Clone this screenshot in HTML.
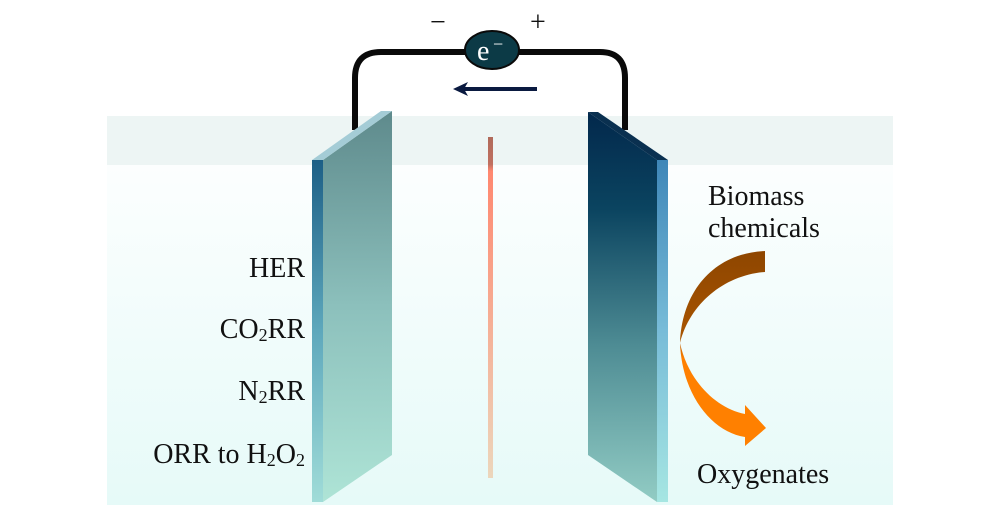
<!DOCTYPE html>
<html><head><meta charset="utf-8"><style>
html,body{margin:0;padding:0;background:#fff;}
svg{display:block}
text{font-family:"Liberation Serif",serif;fill:#111;}
</style></head><body>
<svg width="1000" height="516" viewBox="0 0 1000 516" xmlns="http://www.w3.org/2000/svg">
<defs>
<linearGradient id="bg" x1="0" y1="0" x2="0" y2="1">
<stop offset="0" stop-color="#ffffff"/><stop offset="1" stop-color="#e6faf8"/></linearGradient>
<linearGradient id="lface" x1="0" y1="0" x2="0" y2="1">
<stop offset="0" stop-color="#5e8a8c"/><stop offset="0.5" stop-color="#8cc0bc"/><stop offset="1" stop-color="#aee4d6"/></linearGradient>
<linearGradient id="lstrip" x1="0" y1="0" x2="0" y2="1">
<stop offset="0" stop-color="#1d5f86"/><stop offset="0.5" stop-color="#5ea8bc"/><stop offset="1" stop-color="#a0dcd8"/></linearGradient>
<linearGradient id="rface" x1="0" y1="0" x2="0" y2="1">
<stop offset="0" stop-color="#02284c"/><stop offset="0.25" stop-color="#0b4460"/><stop offset="0.6" stop-color="#4e8c94"/><stop offset="1" stop-color="#92ccc4"/></linearGradient>
<linearGradient id="rstrip" x1="0" y1="0" x2="0" y2="1">
<stop offset="0" stop-color="#3e86b8"/><stop offset="0.5" stop-color="#78bcd8"/><stop offset="1" stop-color="#a6e6e2"/></linearGradient>
<linearGradient id="rod" x1="0" y1="0" x2="0" y2="1">
<stop offset="0" stop-color="#b06a5a"/><stop offset="0.08" stop-color="#c07060"/><stop offset="0.1" stop-color="#ff8870"/><stop offset="1" stop-color="#ecd6bc"/></linearGradient>
<linearGradient id="arr" x1="0" y1="0" x2="0" y2="1">
<stop offset="0" stop-color="#8e4600"/><stop offset="0.45" stop-color="#a85400"/><stop offset="0.55" stop-color="#ff8000"/><stop offset="1" stop-color="#ff8000"/></linearGradient>
</defs>
<rect x="107" y="116" width="786" height="389" fill="url(#bg)"/>
<rect x="107" y="116" width="786" height="49" fill="#edf5f4"/>
<!-- wire -->
<path d="M355,130 L355,78 Q355,52 381,52 L600,52 Q625,52 625,78 L625,130" fill="none" stroke="#0a0a0a" stroke-width="6"/>
<ellipse cx="492" cy="50" rx="27" ry="19" fill="#0c3a46" stroke="#0a0a0a" stroke-width="2"/>
<text x="477" y="60" font-size="28" style="fill:#fff">e</text>
<text x="493" y="50" font-size="18" style="fill:#fff">−</text>
<text x="430" y="31" font-size="28">−</text>
<text x="530" y="31" font-size="28">+</text>
<line x1="537" y1="89" x2="464" y2="89" stroke="#0a1a40" stroke-width="4"/>
<polygon points="453,89 468,82 464,89 468,96" fill="#0a1a40"/>
<!-- rod -->
<rect x="488" y="137" width="5" height="341" fill="url(#rod)"/>
<!-- left electrode -->
<polygon points="323,160 392,111 392,455 323,502" fill="url(#lface)"/>
<polygon points="312,160 381,111 392,111 323,160" fill="#a4ccd6"/>
<rect x="312" y="160" width="11" height="342" fill="url(#lstrip)"/>
<!-- right electrode -->
<polygon points="588,112 657,160 657,502 588,455" fill="url(#rface)"/>
<polygon points="588,112 598,112 668,160 657,160" fill="#0a3050"/>
<rect x="657" y="160" width="11" height="342" fill="url(#rstrip)"/>
<!-- labels -->
<text x="305" y="277" font-size="28" text-anchor="end">HER</text>
<text x="305" y="338" font-size="28" text-anchor="end">CO<tspan font-size="18" dy="3">2</tspan><tspan dy="-3">RR</tspan></text>
<text x="305" y="400" font-size="28" text-anchor="end">N<tspan font-size="18" dy="3">2</tspan><tspan dy="-3">RR</tspan></text>
<text x="305" y="463" font-size="28" text-anchor="end">ORR to H<tspan font-size="18" dy="3">2</tspan><tspan dy="-3">O</tspan><tspan font-size="18" dy="3">2</tspan></text>
<text x="708" y="205" font-size="28">Biomass</text>
<text x="708" y="237" font-size="28">chemicals</text>
<text x="697" y="483" font-size="28">Oxygenates</text>
<!-- curved arrow -->
<path d="M765,251 C715,253 682,290 680,343 C682,395 712,432 745,437 L745,446 L766,428 L745,405 L745,414 C715,408 688,380 680,343 C690,303 725,275 765,272 Z" fill="url(#arr)"/>
</svg>
</body></html>
